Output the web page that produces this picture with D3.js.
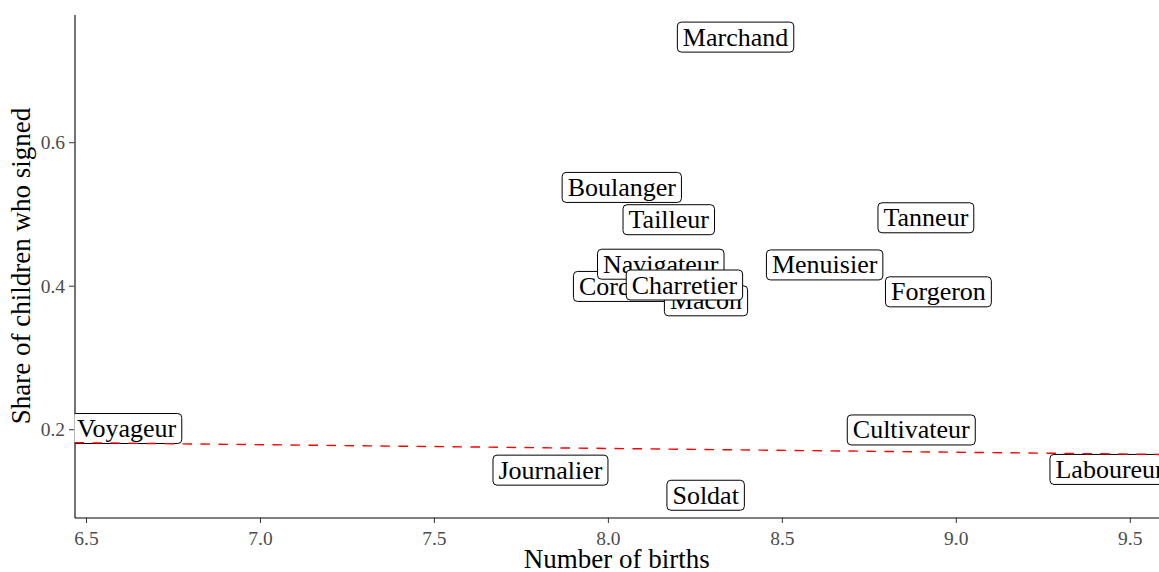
<!DOCTYPE html>
<html>
<head>
<meta charset="utf-8">
<script src="https://cdn.jsdelivr.net/npm/d3@7"></script>
<style>
  html, body { margin: 0; padding: 0; background: #ffffff; }
  svg { display: block; }
</style>
</head>
<body>
<svg id="chart" width="1159" height="572"></svg>
<script>
// ---- data ----
const occupations = ["Voyageur", "Journalier", "Boulanger", "Cordonnier", "Macon", "Navigateur",
  "Charretier", "Tailleur", "Soldat", "Marchand", "Menuisier", "Cultivateur", "Tanneur",
  "Forgeron", "Laboureur"];
const births = [6.617, 7.835, 8.040, 8.087, 8.282, 8.152,
  8.220, 8.175, 8.281, 8.367, 8.623, 8.872, 8.914,
  8.950, 9.442];
const shareSigned = [0.201, 0.143, 0.537, 0.399, 0.379, 0.430,
  0.401, 0.492, 0.108, 0.7465, 0.429, 0.199, 0.4947,
  0.3915, 0.144];
const trendX = [6.467, 9.584];
const trendY = [0.1813, 0.1649];
const xTicks = [6.5, 7.0, 7.5, 8.0, 8.5, 9.0, 9.5];
const yTicks = [0.2, 0.4, 0.6];
const xDomain = [6.467, 9.584];
const yDomain = [0.077, 0.778];
const xTitle = "Number of births";
const yTitle = "Share of children who signed";

// ---- layout ----
const W = 1159, H = 572;
const margin = { left: 74.5, right: 0, top: 14.5, bottom: 54.5 };
const serif = "'Liberation Serif', 'Times New Roman', serif";

const svg = d3.select("#chart");
const x = d3.scaleLinear().domain(xDomain).range([margin.left, W - margin.right]);
const y = d3.scaleLinear().domain(yDomain).range([H - margin.bottom, margin.top]);

svg.append("defs").append("clipPath").attr("id", "panel")
  .append("rect")
  .attr("x", margin.left).attr("y", margin.top)
  .attr("width", W - margin.left - margin.right)
  .attr("height", H - margin.top - margin.bottom);

// ---- axes ----
const xAxis = d3.axisBottom(x).tickValues(xTicks).tickFormat(d3.format(".1f"))
  .tickSizeInner(5.5).tickSizeOuter(0).tickPadding(3);
const yAxis = d3.axisLeft(y).tickValues(yTicks).tickFormat(d3.format(".1f"))
  .tickSizeInner(5.5).tickSizeOuter(0).tickPadding(4);

const gx = svg.append("g").attr("transform", `translate(0,${H - margin.bottom})`).call(xAxis);
const gy = svg.append("g").attr("transform", `translate(${margin.left},0)`).call(yAxis);

[gx, gy].forEach(g => {
  g.select(".domain").attr("stroke", "#000").attr("stroke-width", 1.1);
  g.selectAll(".tick line").attr("stroke", "#333").attr("stroke-width", 1);
  g.selectAll(".tick text")
    .attr("fill", "#4d4d4d")
    .style("font-family", serif)
    .style("font-size", "19.5px");
});
gx.selectAll(".tick text").attr("dy", "0.95em");
gy.selectAll(".tick text").attr("dy", "0.34em");

// axis titles
svg.append("text")
  .attr("x", (margin.left + W - margin.right) / 2)
  .attr("y", 568)
  .attr("text-anchor", "middle")
  .style("font-family", serif).style("font-size", "27px").attr("fill", "#000")
  .text(xTitle);

svg.append("text")
  .attr("transform", `translate(29.5,${(margin.top + H - margin.bottom) / 2}) rotate(-90)`)
  .attr("text-anchor", "middle")
  .style("font-family", serif).style("font-size", "27px").attr("fill", "#000")
  .text(yTitle);

// ---- panel content ----
const panel = svg.append("g").attr("clip-path", "url(#panel)");

const rows = occupations.map((o, i) => ({ name: o, bx: births[i], sy: shareSigned[i] }));

const labelFont = 26;
const padX = 5.5;
const boxH = 30;

const labels = panel.selectAll("g.lab").data(rows).enter().append("g")
  .attr("class", "lab")
  .attr("transform", d => `translate(${x(d.bx)},${y(d.sy)})`);

labels.append("rect").attr("class", "box");
labels.append("text")
  .attr("text-anchor", "middle")
  .attr("y", 8.5)
  .style("font-family", serif)
  .style("font-size", labelFont + "px")
  .attr("fill", "#000")
  .text(d => d.name);

labels.each(function () {
  const g = d3.select(this);
  const w = g.select("text").node().getComputedTextLength();
  g.select("rect.box")
    .attr("x", -w / 2 - padX)
    .attr("y", -boxH / 2)
    .attr("width", w + 2 * padX)
    .attr("height", boxH)
    .attr("rx", 4).attr("ry", 4)
    .attr("fill", "#fff")
    .attr("stroke", "#000")
    .attr("stroke-width", 1);
});

// dashed trend line
panel.append("path")
  .datum(trendX.map((v, i) => [v, trendY[i]]))
  .attr("d", d3.line().x(d => x(d[0])).y(d => y(d[1])))
  .attr("fill", "none")
  .attr("stroke", "#ff0000")
  .attr("stroke-width", 1.4)
  .attr("stroke-dasharray", "9.5,8.5");
</script>
</body>
</html>
